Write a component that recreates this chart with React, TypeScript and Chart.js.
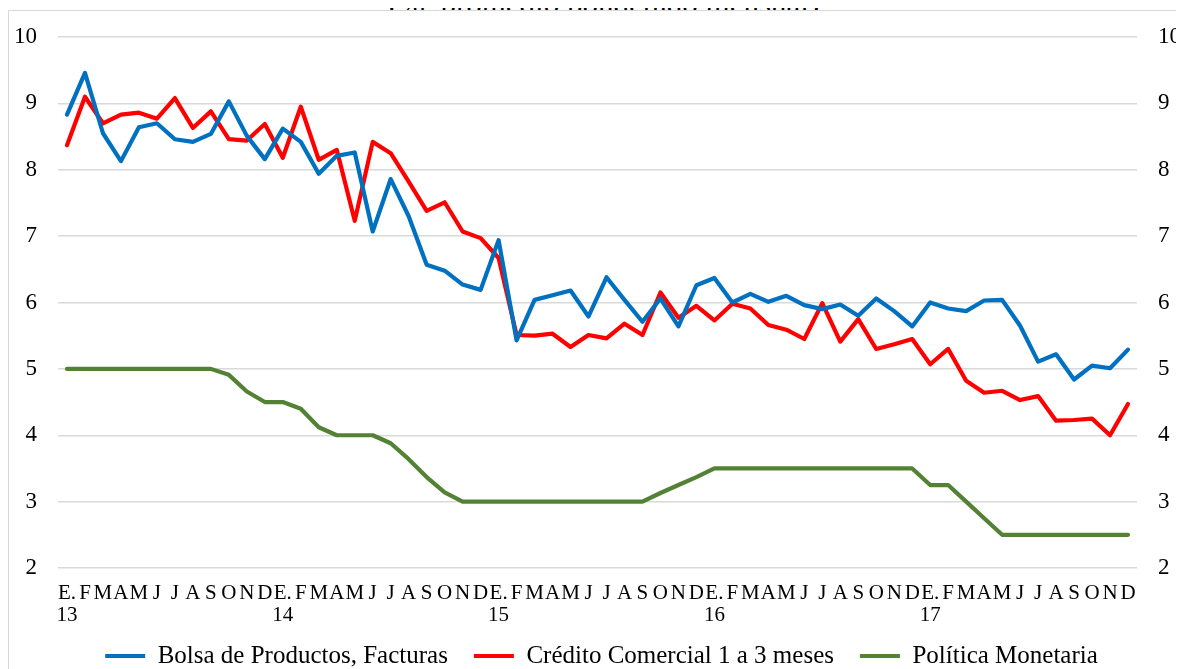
import React, { useEffect, useRef } from "react";
import { Chart, registerables } from "chart.js";

Chart.register(...registerables);

const FONT = "'Liberation Serif', 'Times New Roman', serif";

const monthLetters = ["E.", "F", "M", "A", "M", "J", "J", "A", "S", "O", "N", "D"];
const years = ["13", "14", "15", "16", "17"];

const bolsaFacturas = [
  8.83, 9.46, 8.55, 8.13, 8.64, 8.70, 8.46, 8.42, 8.54, 9.03, 8.51, 8.16,
  8.62, 8.42, 7.94, 8.21, 8.26, 7.07, 7.86, 7.30, 6.57, 6.48, 6.27, 6.19,
  6.94, 5.43, 6.04, 6.11, 6.18, 5.79, 6.38, 6.04, 5.71, 6.06, 5.64, 6.26,
  6.37, 6.00, 6.13, 6.01, 6.10, 5.96, 5.90, 5.97, 5.80, 6.06, 5.87, 5.64,
  6.00, 5.91, 5.87, 6.03, 6.04, 5.65, 5.11, 5.22, 4.84, 5.05, 5.01, 5.29,
];

const creditoComercial = [
  8.37, 9.10, 8.70, 8.83, 8.86, 8.77, 9.08, 8.63, 8.88, 8.46, 8.44, 8.69,
  8.18, 8.95, 8.15, 8.30, 7.23, 8.42, 8.25, 7.82, 7.38, 7.51, 7.07, 6.97,
  6.67, 5.51, 5.50, 5.53, 5.33, 5.51, 5.46, 5.68, 5.51, 6.15, 5.77, 5.95,
  5.73, 5.98, 5.91, 5.66, 5.59, 5.45, 5.99, 5.41, 5.75, 5.30, 5.37, 5.45,
  5.07, 5.30, 4.82, 4.64, 4.67, 4.53, 4.59, 4.22, 4.23, 4.25, 4.00, 4.47,
];

const politicaMonetaria = [
  5.0, 5.0, 5.0, 5.0, 5.0, 5.0, 5.0, 5.0, 5.0, 4.91, 4.66, 4.5,
  4.5, 4.4, 4.12, 4.0, 4.0, 4.0, 3.88, 3.64, 3.37, 3.14, 3.0, 3.0,
  3.0, 3.0, 3.0, 3.0, 3.0, 3.0, 3.0, 3.0, 3.0, 3.13, 3.25, 3.37,
  3.5, 3.5, 3.5, 3.5, 3.5, 3.5, 3.5, 3.5, 3.5, 3.5, 3.5, 3.5,
  3.25, 3.25, 3.0, 2.75, 2.5, 2.5, 2.5, 2.5, 2.5, 2.5, 2.5, 2.5,
];

const seriesNames = [
  "Bolsa de Productos, Facturas",
  "Crédito Comercial 1 a 3 meses",
  "Política Monetaria",
];
const seriesColors = ["#0070C0", "#FF0000", "#548235"];

const yMin = 2;
const yMax = 10;
const yStep = 1;

const title = "(%, promedio ponderado mensual)";

const labels: (string | string[])[] = years.flatMap((yr) =>
  monthLetters.map((m, i) => (i === 0 ? [m, yr] : m))
);

// let tick labels draw outside their own scale box (no clipping)
const noClip = (s: any) => {
  s._computeLabelArea = () => undefined;
};

export default function App() {
  const ref = useRef<HTMLCanvasElement | null>(null);

  useEffect(() => {
    if (!ref.current) return;
    const values = [bolsaFacturas, creditoComercial, politicaMonetaria];
    const chart = new Chart(ref.current, {
      type: "line",
      data: {
        labels,
        datasets: values.map((d, i) => ({
          label: seriesNames[i],
          data: d,
          borderColor: seriesColors[i],
          backgroundColor: seriesColors[i],
          borderWidth: 4.2,
          pointRadius: 0,
          pointHoverRadius: 0,
          tension: 0,
          borderCapStyle: "round" as const,
          borderJoinStyle: "round" as const,
          yAxisID: "y",
        })),
      },
      options: {
        animation: false,
        responsive: false,
        events: [],
        layout: { padding: { top: 26, bottom: -9.5, left: 10, right: 0 } },
        plugins: {
          tooltip: { enabled: false },
          legend: {
            position: "bottom",
            labels: {
              boxWidth: 40,
              boxHeight: 4,
              padding: 26,
              color: "#000",
              font: { family: FONT, size: 25 },
              generateLabels: (c: Chart) =>
                Chart.defaults.plugins.legend.labels
                  .generateLabels(c)
                  .map((it: any) => ({ ...it, lineWidth: 0 })),
            },
          },
        },
        scales: {
          x: {
            type: "category",
            offset: true,
            grid: { display: false, drawTicks: false },
            border: { display: false },
            ticks: {
              autoSkip: false,
              maxRotation: 0,
              minRotation: 0,
              padding: 14,
              color: "#000",
              font: { family: FONT, size: 21, lineHeight: 1.05 },
            },
            afterFit: (s: any) => {
              s.height = 49.5;
              s.paddingLeft = 0;
              s.paddingRight = 0;
              noClip(s);
            },
          },
          y: {
            position: "left",
            min: yMin,
            max: yMax,
            grid: { color: "#d9d9d9", lineWidth: 1.5, drawTicks: false },
            border: { display: false },
            ticks: {
              stepSize: yStep,
              padding: 21,
              color: "#000",
              font: { family: FONT, size: 23 },
            },
            afterFit: (s: any) => {
              s.width = 39;
              s.paddingTop = 0;
              s.paddingBottom = 0;
              noClip(s);
            },
          },
          y2: {
            position: "right",
            min: yMin,
            max: yMax,
            grid: { display: false, drawTicks: false },
            border: { display: false },
            ticks: {
              stepSize: yStep,
              padding: 21,
              color: "#000",
              font: { family: FONT, size: 23 },
            },
            afterFit: (s: any) => {
              s.width = 47;
              s.paddingTop = 0;
              s.paddingBottom = 0;
              noClip(s);
            },
          },
        },
      },
    } as any);
    return () => chart.destroy();
  }, []);

  return (
    <div style={{ paddingTop: 2, position: "relative" }}>
      <div
        style={{
          position: "absolute",
          top: -20,
          left: 596,
          transform: "translateX(-50%)",
          whiteSpace: "nowrap",
          fontFamily: FONT,
          fontSize: 31,
          lineHeight: "31px",
          color: "#000",
        }}
      >
        {title}
      </div>
      <div
        style={{
          position: "relative",
          width: 1175,
          background: "#fff",
          borderTop: "1px solid #d9d9d9",
          borderLeft: "1px solid #d9d9d9",
        }}
      >
        <canvas ref={ref} width={1175} height={658} style={{ display: "block" }} />
      </div>
    </div>
  );
}
